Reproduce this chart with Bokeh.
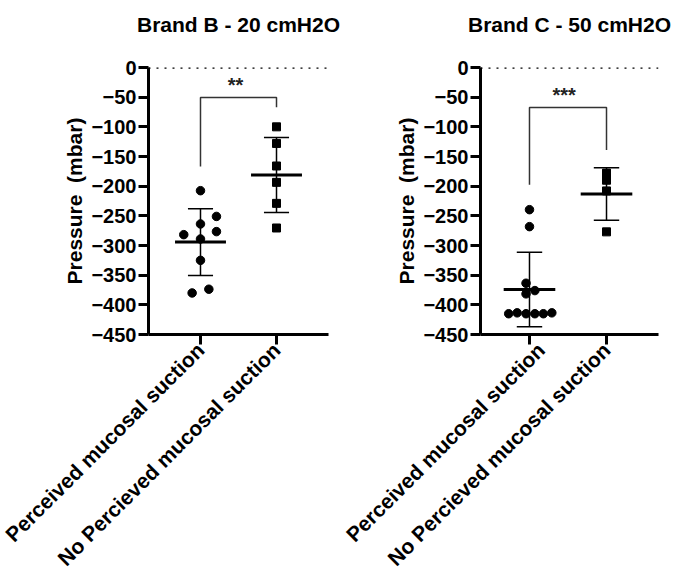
import math
import numpy as np
from bokeh.plotting import figure
from bokeh.layouts import row
from bokeh.models import Range1d, FixedTicker, Span, Title
from bokeh.embed import file_html
from bokeh.resources import INLINE
from bokeh.core.properties import value

# ---------------- data ----------------
categories = ["Perceived mucosal suction", "No Percieved mucosal suction"]
y_ticks = [0, -50, -100, -150, -200, -250, -300, -350, -400, -450]

# Brand B - 20 cmH2O
b_perceived = [-207.6, -251, -263.7, -281.7, -276.6, -289, -325, -380, -373.7]
b_perceived_jitter = [0.0, 0.21, 0.0, -0.22, 0.21, 0.0, 0.0, -0.11, 0.11]
b_none = [-100, -128, -166, -193.6, -229, -270.5]
b_none_jitter = [0, 0, 0, 0, 0, 0]
b_bracket = [-50.5, -167, -67]  # top, left leg end, right leg end
b_sig = "**"

# Brand C - 50 cmH2O
c_perceived = [-239.6, -268.2, -363.6, -376, -381.5, -415, -413.5, -415, -415, -415, -413.5]
c_perceived_jitter = [0.0, 0.0, -0.045, 0.07, -0.045, -0.27, -0.16, -0.045, 0.07, 0.18, 0.29]
c_none = [-178, -190, -208, -277]
c_none_jitter = [0, 0, 0, 0]
c_bracket = [-67.3, -197.5, -139]
c_sig = "***"

FONT = "Liberation Sans"


def panel(title, g1, j1, g2, j2, bracket, sig, fw, bl, br, xr, sig_x):
    p = figure(frame_width=fw, frame_height=267, output_backend="svg", toolbar_location=None,
               x_range=Range1d(*xr), y_range=Range1d(-450, 0),
               min_border_left=bl, min_border_right=br,
               min_border_top=67, min_border_bottom=200)
    p.outline_line_color = None
    p.grid.visible = False
    p.background_fill_color = "white"

    # spacer panel between frame and title, then the title itself
    p.add_layout(Title(text=".", text_font_size="2px", text_color="white", standoff=28), "above")
    p.add_layout(Title(text=title, text_font=FONT, text_font_size="21px",
                       text_font_style="bold", text_color="black", align="center",
                       standoff=2), "above")

    # axes
    for ax in (p.xaxis[0], p.yaxis[0]):
        ax.axis_line_width = 3
        ax.axis_line_color = "black"
        ax.major_tick_line_width = 3
        ax.major_tick_line_color = "black"
        ax.major_tick_in = 0
        ax.major_tick_out = 10
        ax.minor_tick_line_color = None
        ax.major_label_text_font = FONT
        ax.major_label_text_font_style = "bold"
        ax.major_label_text_color = "black"
    p.yaxis.ticker = FixedTicker(ticks=y_ticks)
    p.yaxis.major_label_text_font_size = "20px"
    p.yaxis.major_label_standoff = 2
    p.yaxis.axis_label = "Pressure\u00a0 (mbar)"
    p.yaxis.axis_label_text_font = FONT
    p.yaxis.axis_label_text_font_size = "21px"
    p.yaxis.axis_label_text_font_style = "bold"
    p.yaxis.axis_label_text_color = "black"
    p.yaxis.axis_label_standoff = 2

    p.xaxis.ticker = FixedTicker(ticks=[0, 1])
    p.xaxis.major_label_overrides = {0: categories[0], 1: categories[1]}
    p.xaxis.major_label_orientation = math.pi / 4
    p.xaxis.major_label_text_font_size = "21px"
    p.xaxis.major_label_standoff = 2

    # zero reference line
    p.add_layout(Span(location=0, dimension="width", line_color="black",
                      line_width=2.5, line_dash="2 6"))

    # points
    x1 = [0 + j for j in j1]
    x2 = [1 + j for j in j2]
    p.scatter(x1, g1, marker="circle", size=8.5, fill_color="black", line_color="black")
    p.scatter(x2, g2, marker="square", size=8, fill_color="black", line_color="black")

    # mean +- SD
    for xc, g in ((0, g1), (1, g2)):
        m = float(np.mean(g))
        s = float(np.std(g, ddof=1))
        p.segment(x0=[xc], y0=[m - s], x1=[xc], y1=[m + s], line_color="black", line_width=1.5)
        p.segment(x0=[xc - 0.165, xc - 0.165], y0=[m - s, m + s],
                  x1=[xc + 0.165, xc + 0.165], y1=[m - s, m + s],
                  line_color="black", line_width=1.5)
        p.segment(x0=[xc - 0.335], y0=[m], x1=[xc + 0.335], y1=[m],
                  line_color="black", line_width=3)

    # significance bracket
    top, left_end, right_end = bracket
    p.line([0, 0, 1, 1], [left_end, top, top, right_end], line_color="#333333", line_width=1.5)
    p.text(x=[sig_x], y=[top + 21], text=[sig], text_font=value(FONT),
           text_font_size="20px", text_font_style="bold", text_align="center",
           text_baseline="middle", text_color="#222222")
    return p


p1 = panel("Brand B - 20 cmH2O", b_perceived, b_perceived_jitter, b_none, b_none_jitter,
           b_bracket, b_sig, 180, 148, 13, (-0.684, 1.684), 0.46)
p2 = panel("Brand C - 50 cmH2O", c_perceived, c_perceived_jitter, c_none, c_none_jitter,
           c_bracket, c_sig, 178, 139, 35, (-0.636, 1.675), 0.45)

layout = row(p1, p2, spacing=0)
open("out.html", "w").write(file_html(layout, INLINE))
